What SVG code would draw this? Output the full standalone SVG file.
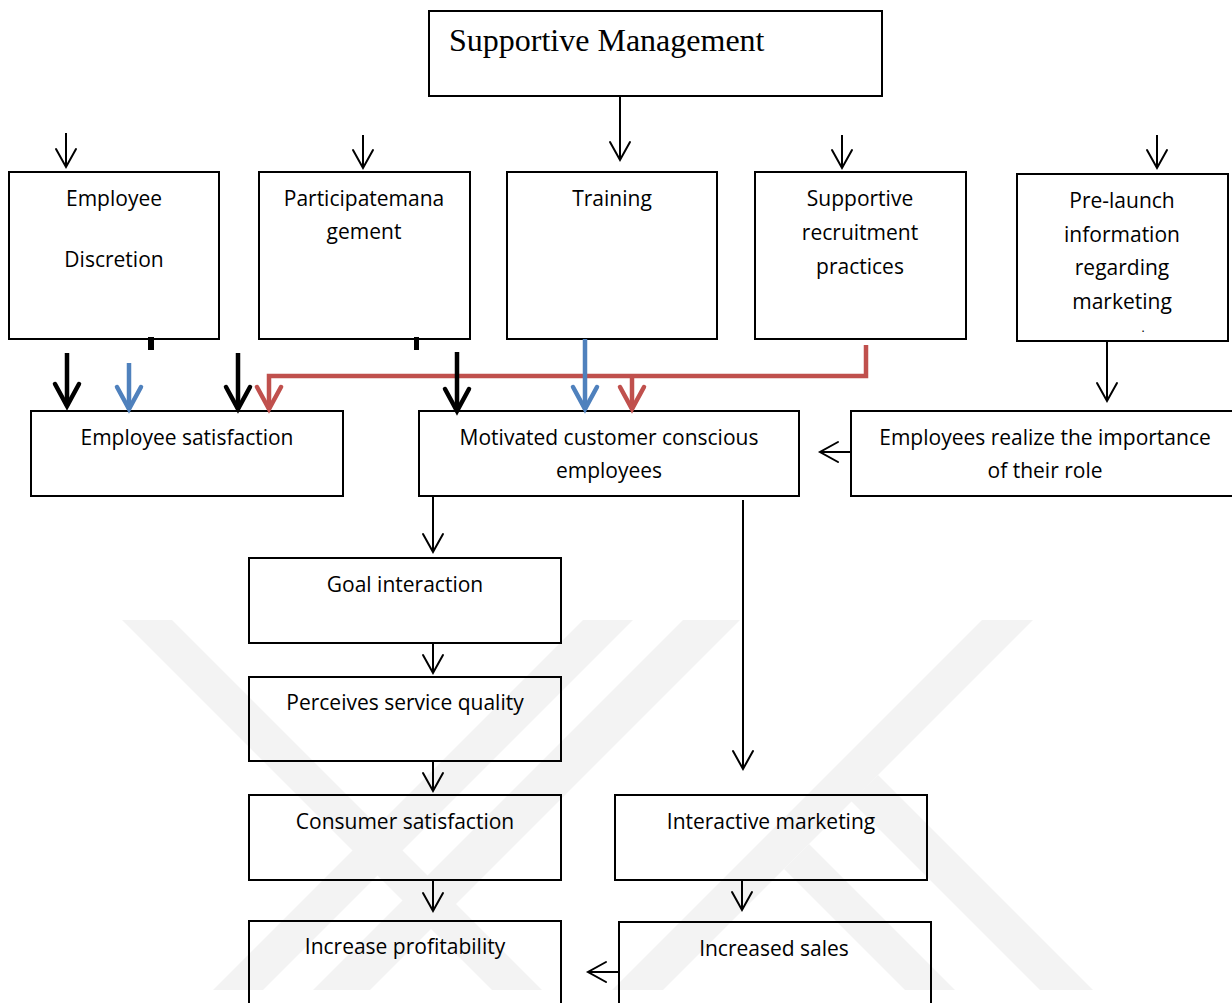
<svg xmlns="http://www.w3.org/2000/svg" width="1232" height="1003" viewBox="0 0 1232 1003">
<style>
.box{fill:none;stroke:#000;stroke-width:2}
.t{font-family:"Open Sans","Liberation Sans",sans-serif;font-size:21px;fill:#000;text-anchor:middle}
.title{font-family:"Liberation Serif","Times New Roman",serif;font-size:32px;fill:#000}
.thin{fill:none;stroke:#000;stroke-width:2;marker-end:url(#aThin)}
.thk{fill:none;stroke-width:4.5;stroke-linejoin:miter}
.wm{fill:#f3f3f3}
</style>
<defs>
<marker id="aThin" markerUnits="userSpaceOnUse" viewBox="-20 -12 22 24" refX="0" refY="0" markerWidth="22" markerHeight="24" orient="auto" overflow="visible">
<path d="M-18,-10 L0,0 L-18,10" fill="none" stroke="#000" stroke-width="2" stroke-linecap="round"/>
</marker>
<marker id="aBlack" markerUnits="userSpaceOnUse" viewBox="-26 -15 28 30" refX="0" refY="0" markerWidth="28" markerHeight="30" orient="auto" overflow="visible">
<path d="M-22,-12 L0,0 L-22,12" fill="none" stroke="#000" stroke-width="4.5" stroke-linecap="round"/>
</marker>
<marker id="aBlue" markerUnits="userSpaceOnUse" viewBox="-26 -15 28 30" refX="0" refY="0" markerWidth="28" markerHeight="30" orient="auto" overflow="visible">
<path d="M-22,-12 L0,0 L-22,12" fill="none" stroke="#4f81bd" stroke-width="4.5" stroke-linecap="round"/>
</marker>
<marker id="aRed" markerUnits="userSpaceOnUse" viewBox="-26 -15 28 30" refX="0" refY="0" markerWidth="28" markerHeight="30" orient="auto" overflow="visible">
<path d="M-22,-12 L0,0 L-22,12" fill="none" stroke="#c0504d" stroke-width="4.5" stroke-linecap="round"/>
</marker>
</defs>
<rect width="1232" height="1003" fill="#fff"/>
<g id="watermark">
<polygon class="wm" points="122,620 172,620 542,990 492,990"/>
<polygon class="wm" points="583,620 633,620 263,990 213,990"/>
<polygon class="wm" points="683,620 740,620 370,990 313,990"/>
<polygon class="wm" points="982,620 1033,620 663,990 612,990"/>
<polygon class="wm" points="878,775 1093,990 1040,990 851,801"/>
<polygon class="wm" points="809,844 955,990 905,990 784,869"/>
</g>
<g id="n-supportive-management">
<rect class="box" x="429" y="11" width="453" height="85"/>
<text class="title" x="449" y="51">Supportive Management</text>
</g>
<g id="n-employee-discretion">
<rect class="box" x="9" y="172" width="210" height="167"/>
<text class="t" x="114" y="206">Employee</text>
<text class="t" x="114" y="267">Discretion</text>
</g>
<g id="n-participate">
<rect class="box" x="259" y="172" width="211" height="167"/>
<text class="t" x="364" y="206">Participatemana</text>
<text class="t" x="364" y="239">gement</text>
</g>
<g id="n-training">
<rect class="box" x="507" y="172" width="210" height="167"/>
<text class="t" x="612" y="206">Training</text>
</g>
<g id="n-recruitment">
<rect class="box" x="755" y="172" width="211" height="167"/>
<text class="t" x="860" y="206">Supportive</text>
<text class="t" x="860" y="240">recruitment</text>
<text class="t" x="860" y="274">practices</text>
</g>
<g id="n-prelaunch">
<rect class="box" x="1017" y="174" width="211" height="167"/>
<text class="t" x="1122" y="208">Pre-launch</text>
<text class="t" x="1122" y="242">information</text>
<text class="t" x="1122" y="275">regarding</text>
<text class="t" x="1122" y="309">marketing</text>
<text class="t" x="1143" y="332" style="font-size:12px">.</text>
</g>
<g id="n-employee-satisfaction">
<rect class="box" x="31" y="411" width="312" height="85"/>
<text class="t" x="187" y="445">Employee satisfaction</text>
</g>
<g id="n-motivated">
<rect class="box" x="419" y="411" width="380" height="85"/>
<text class="t" x="609" y="445">Motivated customer conscious</text>
<text class="t" x="609" y="478">employees</text>
</g>
<g id="n-employees-realize">
<rect class="box" x="851" y="411" width="400" height="85"/>
<text class="t" x="1045" y="445">Employees realize the importance</text>
<text class="t" x="1045" y="478">of their role</text>
</g>
<g id="n-goal">
<rect class="box" x="249" y="558" width="312" height="85"/>
<text class="t" x="405" y="592">Goal interaction</text>
</g>
<g id="n-perceives">
<rect class="box" x="249" y="677" width="312" height="84"/>
<text class="t" x="405" y="710">Perceives service quality</text>
</g>
<g id="n-consumer">
<rect class="box" x="249" y="795" width="312" height="85"/>
<text class="t" x="405" y="829">Consumer satisfaction</text>
</g>
<g id="n-profitability">
<rect class="box" x="249" y="921" width="312" height="100"/>
<text class="t" x="405" y="954">Increase profitability</text>
</g>
<g id="n-interactive">
<rect class="box" x="615" y="795" width="312" height="85"/>
<text class="t" x="771" y="829">Interactive marketing</text>
</g>
<g id="n-sales">
<rect class="box" x="619" y="922" width="312" height="100"/>
<text class="t" x="774" y="956">Increased sales</text>
</g>
<g id="connectors">
<line class="thin" x1="620" y1="96" x2="620" y2="160"/>
<line class="thin" x1="66" y1="133" x2="66" y2="167"/>
<line class="thin" x1="363" y1="135" x2="363" y2="168"/>
<line class="thin" x1="842" y1="135" x2="842" y2="168"/>
<line class="thin" x1="1157" y1="135" x2="1157" y2="168"/>
<rect x="148" y="337" width="6" height="13" fill="#000"/>
<rect x="414" y="337" width="5" height="13" fill="#000"/>
<line class="thk" stroke="#000" marker-end="url(#aBlack)" x1="67" y1="353" x2="67" y2="406"/>
<line class="thk" stroke="#4f81bd" marker-end="url(#aBlue)" x1="129" y1="363" x2="129" y2="409"/>
<line class="thk" stroke="#000" marker-end="url(#aBlack)" x1="238" y1="353" x2="238" y2="409"/>
<polyline class="thk" stroke="#c0504d" marker-end="url(#aRed)" points="866,345 866,376 269,376 269,409"/>
<line class="thk" stroke="#c0504d" marker-end="url(#aRed)" x1="632" y1="376" x2="632" y2="409"/>
<line class="thk" stroke="#000" marker-end="url(#aBlack)" x1="457" y1="352" x2="457" y2="411"/>
<line class="thk" stroke="#4f81bd" marker-end="url(#aBlue)" x1="585" y1="339" x2="585" y2="409"/>
<line class="thin" x1="1107" y1="341" x2="1107" y2="401"/>
<line class="thin" x1="851" y1="452" x2="820" y2="452"/>
<line class="thin" x1="433" y1="496" x2="433" y2="552"/>
<line class="thin" x1="743" y1="500" x2="743" y2="769"/>
<line class="thin" x1="433" y1="643" x2="433" y2="673"/>
<line class="thin" x1="433" y1="761" x2="433" y2="791"/>
<line class="thin" x1="433" y1="880" x2="433" y2="911"/>
<line class="thin" x1="742" y1="880" x2="742" y2="910"/>
<line class="thin" x1="619" y1="972" x2="588" y2="972"/>
</g>
</svg>
